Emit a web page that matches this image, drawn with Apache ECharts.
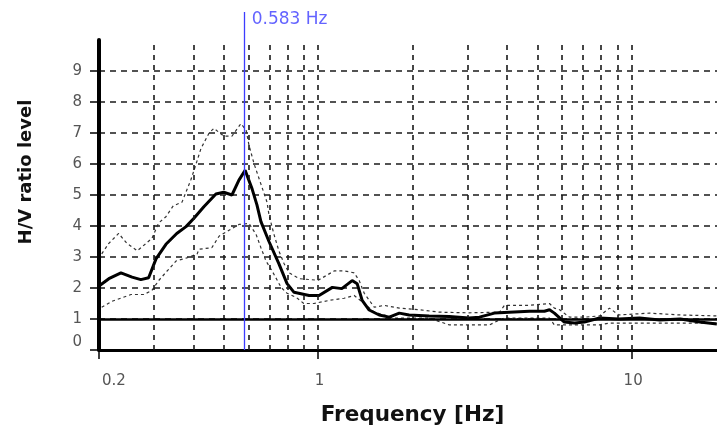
<!DOCTYPE html>
<html><head><meta charset="utf-8">
<script src="https://cdn.jsdelivr.net/npm/echarts/dist/echarts.min.js"></script>
<style>html,body{margin:0;padding:0;background:#fff}#c{width:717px;height:432px}</style>
</head><body><div id="c"></div>
<script>
// ---- data ----
const meanFreq = [0.201,0.215,0.235,0.255,0.272,0.288,0.304,0.327,0.354,0.379,0.401,0.432,0.472,0.500,0.531,0.559,0.585,0.616,0.638,0.657,0.697,0.750,0.796,0.838,0.936,1.007,1.11,1.19,1.284,1.332,1.382,1.455,1.566,1.686,1.815,1.95,2.26,2.62,3.03,3.27,3.65,4.07,4.72,5.27,5.47,5.67,6.1,6.58,7.07,7.9,9.1,10.6,12.3,14.3,16.5,18.7];
const meanHV   = [2.08,2.3,2.49,2.35,2.27,2.33,2.94,3.41,3.76,3.98,4.24,4.62,5.03,5.09,5.0,5.48,5.8,5.19,4.68,4.14,3.5,2.78,2.14,1.86,1.76,1.76,2.02,1.98,2.24,2.14,1.6,1.29,1.13,1.06,1.19,1.13,1.1,1.08,1.03,1.06,1.19,1.22,1.25,1.25,1.3,1.19,0.9,0.87,0.9,1.03,1.0,1.03,0.97,1.0,0.9,0.84];

const upperFreq = [0.204,0.215,0.231,0.245,0.265,0.295,0.31,0.327,0.345,0.368,0.393,0.405,0.423,0.449,0.465,0.50,0.531,0.567,0.589,0.602,0.625,0.657,0.687,0.697,0.723,0.75,0.779,0.808,0.87,1.0,1.125,1.211,1.303,1.352,1.403,1.51,1.625,1.815,2.1,2.44,3.0,3.79,3.93,4.72,5.47,5.67,5.89,6.34,7.07,7.9,8.5,9.1,11.4,14.3,18.7];
const upperHV   = [3.1,3.44,3.76,3.45,3.2,3.6,4.1,4.3,4.65,4.77,5.5,5.9,6.5,7.0,7.15,6.9,6.9,7.3,7.1,6.6,6.0,5.35,4.77,4.36,3.73,3.19,2.78,2.49,2.3,2.25,2.55,2.55,2.49,2.24,1.83,1.38,1.44,1.35,1.3,1.22,1.2,1.22,1.44,1.44,1.5,1.35,1.3,1.06,1.06,1.1,1.35,1.13,1.19,1.13,1.1];

const lowerFreq = [0.204,0.22,0.253,0.278,0.295,0.31,0.33,0.352,0.381,0.411,0.417,0.458,0.483,0.531,0.559,0.602,0.634,0.657,0.682,0.713,0.762,0.796,0.851,0.9,0.97,1.084,1.211,1.303,1.403,1.51,1.625,1.749,2.26,2.62,3.52,3.79,3.93,5.47,5.67,7.9,8.5,18.7];
const lowerHV   = [1.38,1.57,1.79,1.79,1.92,2.24,2.55,2.87,2.97,3.1,3.25,3.3,3.67,3.92,4.05,4.08,3.73,3.3,2.87,2.55,2.02,1.83,1.7,1.5,1.5,1.6,1.67,1.76,1.5,1.22,1.13,1.03,1.03,0.81,0.81,0.97,1.03,1.03,0.81,0.81,0.87,0.87];

const peakFreq = 0.583;
const peakLabel = '0.583 Hz';
const refLevel = 1;
const xTickLabels = [0.2, 1, 10];
const yTickValues = [0,1,2,3,4,5,6,7,8,9];
const gridFreqs = [0.3,0.4,0.5,0.6,0.7,0.8,0.9,1,2,3,4,5,6,7,8,9,10];
const xRange = [0.2, 20];
const yRange = [0, 10];

const zip = (a, b) => a.map((v, i) => [v, b[i]]);
const FONT = 'DejaVu Sans';

const chart = echarts.init(document.getElementById('c'), null, {renderer: 'canvas'});
const option = {
  animation: false,
  backgroundColor: '#fff',
  grid: [
    {left: 99, top: 40, width: 627, height: 310, outerBoundsMode: 'none', containLabel: false},
    {left: 99, top: 12, width: 627, height: 338, outerBoundsMode: 'none', containLabel: false}
  ],
  xAxis: [{
    type: 'log', logBase: 10, min: xRange[0], max: xRange[1], gridIndex: 0,
    name: 'Frequency [Hz]', nameLocation: 'middle', nameGap: 54,
    nameTextStyle: {fontFamily: FONT, fontWeight: 'bold', fontSize: 21.5, color: '#111'},
    axisLine: {show: true, lineStyle: {color: '#000', width: 3}},
    axisTick: {show: true, inside: false, length: 9, lineStyle: {color: '#000', width: 1.5}},
    axisLabel: {
      margin: 24, fontFamily: FONT, fontSize: 15, color: '#555',
      alignMinLabel: 'left', padding: [0, 0, 0, 3],
      formatter: v => {
        const hit = xTickLabels.find(t => Math.abs(t - v) / t < 1e-6);
        return hit === undefined ? '' : String(hit);
      }
    },
    splitLine: {show: false},
    minorTick: {show: false}, minorSplitLine: {show: false}
  }, {
    type: 'log', logBase: 10, min: xRange[0], max: xRange[1], gridIndex: 1, show: false
  }],
  yAxis: [{
    type: 'value', min: yRange[0], max: yRange[1], interval: 1, gridIndex: 0,
    name: 'H/V ratio level', nameLocation: 'middle', nameGap: 64, nameRotate: 90,
    nameTextStyle: {fontFamily: FONT, fontWeight: 'bold', fontSize: 18, color: '#111', padding: [0, 0, 0, 46]},
    axisLine: {show: true, lineStyle: {color: '#000', width: 4}},
    axisTick: {show: true, length: 9, lineStyle: {color: '#000', width: 1.5}, customValues: yTickValues},
    axisLabel: {
      margin: 17, fontFamily: FONT, fontSize: 15, color: '#555',
      customValues: yTickValues, verticalAlignMinLabel: 'bottom'
    },
    splitLine: {show: true, showMinLine: false, showMaxLine: true,
      lineStyle: {color: '#1a1a1a', width: 1.6, type: [6, 5]}}
  }, {
    type: 'value', min: 0, max: 1, gridIndex: 1, show: false
  }],
  series: [
    {
      name: 'grid', type: 'line', xAxisIndex: 0, yAxisIndex: 0, data: [], z: 1, silent: true,
      markLine: {
        silent: true, symbol: 'none', animation: false,
        label: {show: false},
        data: gridFreqs.map(f => ({xAxis: f, lineStyle: {color: '#1a1a1a', width: 1.6, type: [5, 5]}}))
          .concat([{yAxis: refLevel, lineStyle: {color: '#000', width: 2.5, type: 'solid'}}])
      }
    },
    {
      name: 'upper', type: 'line', xAxisIndex: 0, yAxisIndex: 0, z: 3,
      data: zip(upperFreq, upperHV), symbol: 'none', smooth: false,
      lineStyle: {color: '#333', width: 1.2, type: [3, 3]}
    },
    {
      name: 'lower', type: 'line', xAxisIndex: 0, yAxisIndex: 0, z: 3,
      data: zip(lowerFreq, lowerHV), symbol: 'none', smooth: false,
      lineStyle: {color: '#333', width: 1.2, type: [3, 3]}
    },
    {
      name: 'mean', type: 'line', xAxisIndex: 0, yAxisIndex: 0, z: 4,
      data: zip(meanFreq, meanHV), symbol: 'none', smooth: false,
      lineStyle: {color: '#000', width: 3}
    },
    {
      name: 'peak', type: 'scatter', xAxisIndex: 1, yAxisIndex: 1, z: 5,
      data: [[peakFreq, 1]], symbolSize: 0, silent: true,
      label: {show: true, formatter: peakLabel, position: 'right', distance: 7, offset: [0, 8],
        fontFamily: FONT, fontSize: 17, color: '#3c3cff'},
      markLine: {
        silent: true, symbol: 'none', animation: false, label: {show: false},
        lineStyle: {color: '#3c3cff', width: 1.3, type: 'solid'},
        data: [[{coord: [peakFreq, 0]}, {coord: [peakFreq, 1]}]]
      }
    }
  ]
};
chart.setOption(option);
</script>
</body></html>
